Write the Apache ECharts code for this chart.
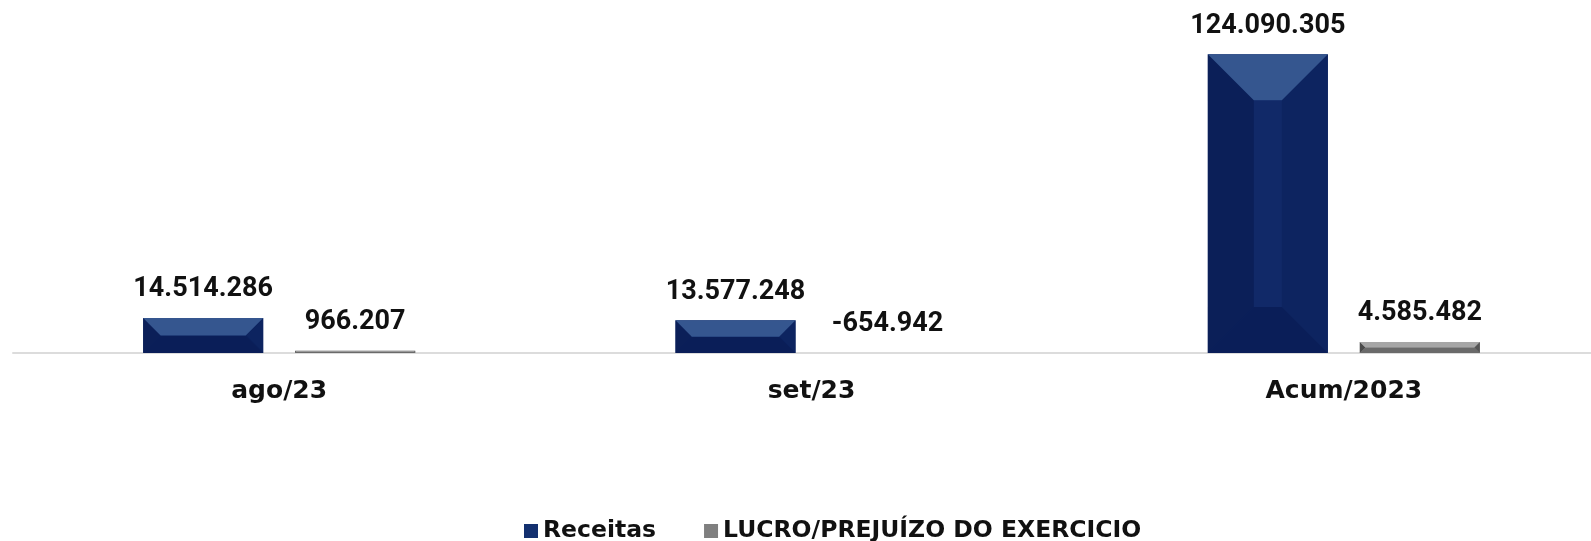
<!DOCTYPE html>
<html>
<head>
<meta charset="utf-8">
<script src="https://cdn.jsdelivr.net/npm/echarts@6/dist/echarts.min.js"></script>
<style>
  html, body { margin: 0; padding: 0; background: #fff; }
  #main { width: 1591px; height: 541px; }
</style>
</head>
<body>
<div id="main"></div>
<script>
// dados do gráfico
var categorias = ['ago/23', 'set/23', 'Acum/2023'];
var receitas = [14514286, 13577248, 124090305];
var lucro = [966207, -654942, 4585482];

var fonteValor = 'Roboto, "Noto Sans", sans-serif';
var fonteEixo = '"DejaVu Sans", sans-serif';

var larguraBarra = 120;
var espaco = 32;

// paletas do chanfro (topo, esquerda, direita, base, centro)
var chanfro = [
    ['#35568f', '#0b1f58', '#0d2460', '#0a1e58', '#112968'],
    ['#a6a6a6', '#4a4a4a', '#555555', '#6a6a6a', '#7f7f7f']
];

function fmt(v) {
    var s = Math.abs(v).toString().replace(/\B(?=(\d{3})+(?!\d))/g, '.');
    return (v < 0 ? '-' : '') + s;
}

// dados para o desenho do chanfro: [categoria, valor, série]
var dadosChanfro = [];
receitas.forEach(function (v, i) { dadosChanfro.push([i, v, 0]); });
lucro.forEach(function (v, i) { dadosChanfro.push([i, v, 1]); });

function desenhaChanfro(params, api) {
    var v = api.value(1);
    if (v <= 0) return;
    var s = api.value(2);
    var base = api.coord([api.value(0), 0]);
    var topo = api.coord([api.value(0), v]);
    var cx = base[0] + (s === 0 ? -1 : 1) * (larguraBarra + espaco) / 2;
    var l = cx - larguraBarra / 2, r = cx + larguraBarra / 2;
    var t = topo[1], b = base[1];
    var d = Math.min(46, (b - t) / 2);
    var c = chanfro[s];
    function poly(pts, cor) {
        return { type: 'polygon', shape: { points: pts }, style: { fill: cor } };
    }
    return {
        type: 'group',
        children: [
            poly([[l, t], [l + d, t + d], [l + d, b - d], [l, b]], c[1]),
            poly([[r, t], [r - d, t + d], [r - d, b - d], [r, b]], c[2]),
            poly([[l, b], [l + d, b - d], [r - d, b - d], [r, b]], c[3]),
            poly([[l + d, t + d], [r - d, t + d], [r - d, b - d], [l + d, b - d]], c[4]),
            poly([[l, t], [r, t], [r - d, t + d], [l + d, t + d]], c[0])
        ]
    };
}

var rotulo = {
    show: true, position: 'top', distance: 15,
    fontFamily: fonteValor, fontWeight: 'bold', fontSize: 27, color: '#111',
    formatter: function (p) { return fmt(p.value); }
};

var myChart = echarts.init(document.getElementById('main'));
myChart.setOption({
    animation: false,
    grid: { left: 13, width: 1597, top: 16, bottom: 188, outerBoundsMode: 'none', containLabel: false },
    legend: {
        left: 519,
        top: 514,
        icon: 'rect',
        itemWidth: 14,
        itemHeight: 14,
        itemGap: 48,
        textStyle: { fontFamily: fonteEixo, fontWeight: 'bold', fontSize: 23.5, color: '#111' },
        data: [
            { name: 'Receitas', itemStyle: { color: '#13306f' } },
            { name: 'LUCRO/PREJUÍZO DO EXERCICIO', itemStyle: { color: '#7f7f7f' } }
        ]
    },
    xAxis: {
        type: 'category',
        data: categorias,
        axisLine: { lineStyle: { color: '#dcdcdc', width: 2 } },
        axisTick: { length: 9, lineStyle: { color: '#dcdcdc', width: 2 } },
        axisLabel: { margin: 26, fontFamily: fonteEixo, fontWeight: 'bold', fontSize: 25, color: '#111' }
    },
    yAxis: { type: 'value', min: 0, max: 140000000, show: false, splitLine: { show: false } },
    series: [
        {
            name: 'Receitas',
            type: 'bar',
            data: receitas,
            barWidth: larguraBarra,
            barGap: (espaco / larguraBarra * 100) + '%',
            itemStyle: { color: '#0d2462' },
            label: rotulo
        },
        {
            name: 'LUCRO/PREJUÍZO DO EXERCICIO',
            type: 'bar',
            data: lucro,
            barWidth: larguraBarra,
            clip: false,
            itemStyle: {
                color: function (p) { return p.value < 0 ? 'rgba(0,0,0,0)' : '#7f7f7f'; }
            },
            label: rotulo
        },
        {
            type: 'custom',
            z: 3,
            silent: true,
            renderItem: desenhaChanfro,
            data: dadosChanfro
        }
    ]
});
</script>
</body>
</html>
